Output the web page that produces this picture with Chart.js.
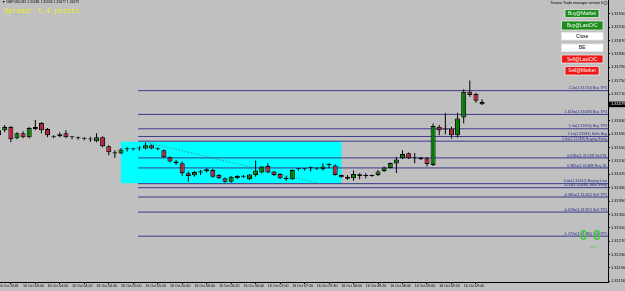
<!DOCTYPE html>
<html>
<head>
<meta charset="utf-8">
<script src="https://cdn.jsdelivr.net/npm/chart.js@4.4.0/dist/chart.umd.min.js"></script>
<style>
  html, body { margin: 0; padding: 0; background: #c0c0c0; overflow: hidden; }
  #wrap { width: 625px; height: 291px; overflow: hidden; }
</style>
</head>
<body>
<div id="wrap"><canvas id="chart" width="650" height="291"></canvas></div>
<script>
// GBPUSD M5, 16 Oct 03:20 .. 09:55 (one candle per 5 min)
const symbol = 'GBPUSD,M5'
const spreadPoints = 1.4

const opens = [1.31587, 1.31602, 1.31611, 1.31578, 1.31593, 1.31581, 1.31605, 1.31623, 1.31605, 1.31584,
  1.31584, 1.31593, 1.31581, 1.31578, 1.31576, 1.31574, 1.31569, 1.31581, 1.31554, 1.31536,
  1.31532, 1.31545, 1.31545, 1.31547, 1.31547, 1.31557, 1.31548, 1.31542, 1.31521, 1.31508,
  1.31503, 1.31473, 1.31467, 1.31475, 1.31479, 1.31483, 1.31468, 1.31458, 1.31448, 1.31465,
  1.31463, 1.31455, 1.31468, 1.31475, 1.31495, 1.31478, 1.31471, 1.31460, 1.31455, 1.31485,
  1.31485, 1.31488, 1.31487, 1.31485, 1.31498, 1.31496, 1.31468, 1.31463, 1.31458, 1.31470,
  1.31465, 1.31465, 1.31468, 1.31480, 1.31489, 1.31502, 1.31518, 1.31533, 1.31518, 1.31515,
  1.31518, 1.31498, 1.31612, 1.31604, 1.31607, 1.31587, 1.31640, 1.31717, 1.31710, 1.31686]
const highs = [1.31608, 1.31617, 1.31614, 1.31596, 1.31599, 1.31611, 1.31632, 1.31626, 1.31608, 1.31587,
  1.31596, 1.31602, 1.31584, 1.31583, 1.31581, 1.31582, 1.31593, 1.31584, 1.31557, 1.31542,
  1.31548, 1.31551, 1.31548, 1.31554, 1.31566, 1.31559, 1.31550, 1.31544, 1.31523, 1.31513,
  1.31508, 1.31478, 1.31480, 1.31483, 1.31488, 1.31486, 1.31471, 1.31460, 1.31465, 1.31468,
  1.31468, 1.31471, 1.31511, 1.31495, 1.31503, 1.31480, 1.31473, 1.31465, 1.31484, 1.31487,
  1.31487, 1.31493, 1.31489, 1.31503, 1.31503, 1.31499, 1.31469, 1.31468, 1.31481, 1.31473,
  1.31473, 1.31469, 1.31483, 1.31493, 1.31505, 1.31522, 1.31542, 1.31535, 1.31534, 1.31522,
  1.31522, 1.31622, 1.31617, 1.31653, 1.31612, 1.31654, 1.31724, 1.31750, 1.31714, 1.31694]
const lows = [1.31584, 1.31596, 1.31566, 1.31575, 1.31578, 1.31578, 1.31602, 1.31593, 1.31581, 1.31578,
  1.31581, 1.31578, 1.31575, 1.31573, 1.31572, 1.31567, 1.31566, 1.31551, 1.31527, 1.31519,
  1.31531, 1.31538, 1.31541, 1.31540, 1.31544, 1.31545, 1.31542, 1.31519, 1.31505, 1.31498,
  1.31465, 1.31448, 1.31463, 1.31468, 1.31475, 1.31460, 1.31456, 1.31445, 1.31445, 1.31456,
  1.31459, 1.31453, 1.31463, 1.31472, 1.31473, 1.31465, 1.31456, 1.31451, 1.31453, 1.31481,
  1.31481, 1.31478, 1.31483, 1.31481, 1.31488, 1.31466, 1.31460, 1.31453, 1.31451, 1.31455,
  1.31458, 1.31463, 1.31465, 1.31477, 1.31487, 1.31474, 1.31516, 1.31516, 1.31503, 1.31513,
  1.31493, 1.31495, 1.31587, 1.31590, 1.31577, 1.31580, 1.31622, 1.31702, 1.31684, 1.31677]
const closes = [1.31602, 1.31611, 1.31575, 1.31593, 1.31581, 1.31608, 1.31611, 1.31602, 1.31587, 1.31581,
  1.31590, 1.31581, 1.31581, 1.31578, 1.31576, 1.31574, 1.31581, 1.31554, 1.31536, 1.31532,
  1.31544, 1.31545, 1.31545, 1.31547, 1.31557, 1.31547, 1.31545, 1.31521, 1.31508, 1.31503,
  1.31473, 1.31465, 1.31477, 1.31479, 1.31485, 1.31463, 1.31458, 1.31448, 1.31463, 1.31458,
  1.31463, 1.31469, 1.31481, 1.31493, 1.31475, 1.31468, 1.31458, 1.31455, 1.31483, 1.31485,
  1.31485, 1.31488, 1.31487, 1.31493, 1.31498, 1.31468, 1.31461, 1.31457, 1.31471, 1.31465,
  1.31465, 1.31468, 1.31478, 1.31490, 1.31504, 1.31514, 1.31531, 1.31518, 1.31518, 1.31520,
  1.31501, 1.31614, 1.31602, 1.31604, 1.31587, 1.31637, 1.31717, 1.31707, 1.31690, 1.31679]

// time axis: a label every 4th candle
const xLabels = ['16 Oct 2018', '16 Oct 03:40', '16 Oct 04:00', '16 Oct 04:20', '16 Oct 04:40',
  '16 Oct 05:00', '16 Oct 05:20', '16 Oct 05:40', '16 Oct 06:00', '16 Oct 06:20', '16 Oct 06:40',
  '16 Oct 07:00', '16 Oct 07:20', '16 Oct 07:40', '16 Oct 08:00', '16 Oct 08:20', '16 Oct 08:40',
  '16 Oct 09:00', '16 Oct 09:20', '16 Oct 09:40']
const xTickIdx = xLabels.map((l, i) => i * 4)

const yTicks = [1.31950, 1.31910, 1.31870, 1.31830, 1.31790, 1.31750, 1.31710, 1.31630, 1.31590, 1.31550,
  1.31510, 1.31470, 1.31430, 1.31390, 1.31350, 1.31310, 1.31270, 1.31230, 1.31190, 1.31150]

// fibo levels of the trade manager
const fibLevels = ['2.2', '1.618', '1.3', '1.1', '1.0', '0.618', '0.382', '0.0', '-0.1', '-0.382', '-0.618', '-1.272']
const fibPrices = [1.31720, 1.31649, 1.31606, 1.31583, 1.31569, 1.31519, 1.31489, 1.31442, 1.31430, 1.31402, 1.31357, 1.31285]
const fibTags = ['Buy TP5', 'Buy TP4', 'Buy TP3', 'Sells Buy', 'Buying Entry', 'Sell SL', 'Buy SL', 'Buying Line', 'Sells Entry', 'Sell TP1', 'Sell TP3', 'Sell TP5']
const fibStart = 22.8

// cyan box and the two dotted trendlines
const boxX = [19.95, 56.06]
const boxY = [1.31567, 1.31443]
const trend1 = [[24.74, 1.31563], [52.8, 1.31441]]
const trend2 = [[72.1, 1.31597], [75.1, 1.31642]]

const buttons = [
  ['Buy@Market', 565, 9.5, 599, 17.5, '#1c8c1c', '#ffffff'],
  ['Buy@LastO/C', 561.5, 21, 603, 30, '#1c8c1c', '#ffffff'],
  ['Close', 561.5, 32.5, 603, 40, '#ffffff', '#000000'],
  ['BE', 561.5, 44, 603, 51.5, '#ffffff', '#000000'],
  ['Sell@LastO/C', 561.5, 55, 603, 63, '#f01414', '#ffffff'],
  ['Sell@Market', 565, 66.5, 599, 75, '#f01414', '#ffffff']
]

const xMin = 0.229
const xMax = 99.58
const yMin = 1.31148
const yMax = 1.31991
const font = '"Liberation Sans", Arial, sans-serif'

const bull = '#008000'
const bear = '#c0203a'
const bodyColors = opens.map((o, i) => closes[i] > o ? bull : (closes[i] < o ? bear : '#000000'))

const datasets = [{
  type: 'line',
  data: [{x: boxX[0], y: boxY[0]}, {x: boxX[1], y: boxY[0]}],
  borderWidth: 0,
  pointRadius: 0,
  backgroundColor: '#00ffff',
  fill: {value: boxY[1]},
  order: 10
}]
fibPrices.forEach((p) => {
  datasets.push({
    type: 'line',
    data: [{x: fibStart, y: p}, {x: xMax, y: p}],
    borderColor: '#3b3b8c',
    borderWidth: 1,
    pointRadius: 0,
    fill: false,
    order: 6
  })
})
;[trend1, trend2].forEach((t, k) => {
  datasets.push({
    type: 'line',
    data: t.map(p => ({x: p[0], y: p[1]})),
    borderColor: k === 0 ? '#5a6a6a' : '#8a8a8a',
    borderWidth: 1,
    borderDash: [1, 2],
    pointRadius: 0,
    fill: false,
    order: 5
  })
})
datasets.push({
  type: 'bar',
  data: lows.map((l, i) => ({x: i, y: [l, highs[i]]})),
  backgroundColor: '#000000',
  barThickness: 1,
  grouped: false,
  inflateAmount: 0,
  order: 2
})
datasets.push({
  type: 'bar',
  data: opens.map((o, i) => ({x: i, y: [o, closes[i]]})),
  backgroundColor: bodyColors,
  borderColor: '#000000',
  borderWidth: 1,
  borderSkipped: false,
  barThickness: 5,
  minBarLength: 1,
  grouped: false,
  inflateAmount: 0,
  order: 1
})

const decor = {
  id: 'decor',
  afterDatasetsDraw (chart) {
    const ctx = chart.ctx
    const y = chart.scales.y
    const area = chart.chartArea
    ctx.save()
    ctx.font = '3.7px ' + font
    ctx.fillStyle = '#2a2a8a'
    ctx.textAlign = 'right'
    ctx.textBaseline = 'bottom'
    fibPrices.forEach((p, i) => {
      ctx.fillText(fibLevels[i] + '=(' + p.toFixed(5) + ') ' + fibTags[i], area.right - 1, y.getPixelForValue(p) - 0.5)
    })
    ctx.restore()
  },
  afterDraw (chart) {
    const ctx = chart.ctx
    const y = chart.scales.y
    const area = chart.chartArea
    const last = closes.length - 1
    ctx.save()
    // header line
    ctx.fillStyle = '#000'
    ctx.font = '3.4px ' + font
    ctx.textBaseline = 'middle'
    ctx.fillText('\u25BC ' + symbol + ' ' + opens[last].toFixed(5) + ' ' + highs[last].toFixed(5) + ' ' +
      lows[last].toFixed(5) + ' ' + closes[last].toFixed(5), 2, 2.5)
    ctx.fillStyle = '#f0f020'
    ctx.font = '7px "Liberation Mono", "DejaVu Sans Mono", monospace'
    ctx.fillText('Spread: ' + spreadPoints + ' points', 4, 11.5)

    // trade manager panel
    ctx.fillStyle = '#000'
    ctx.font = '3.6px ' + font
    ctx.textAlign = 'right'
    ctx.fillText('Trisano Trade manager version 6', 603, 3)
    ctx.strokeStyle = '#333'
    ctx.lineWidth = 0.6
    ctx.beginPath()
    ctx.arc(605.5, 3, 1.6, 0, Math.PI * 2)
    ctx.stroke()
    ctx.textAlign = 'center'
    ctx.font = '4.8px ' + font
    buttons.forEach((b) => {
      ctx.fillStyle = b[5]
      ctx.fillRect(b[1], b[2], b[3] - b[1], b[4] - b[2])
      ctx.strokeStyle = '#e8e8e8'
      ctx.lineWidth = 0.8
      ctx.strokeRect(b[1], b[2], b[3] - b[1], b[4] - b[2])
      ctx.fillStyle = b[6]
      ctx.fillText(b[0], (b[1] + b[3]) / 2, (b[2] + b[4]) / 2 + 0.3)
    })

    // profit marks
    ctx.strokeStyle = '#3ccc3c'
    ctx.lineWidth = 1.6
    ;[583.5, 597].forEach((cx) => {
      ctx.beginPath()
      ctx.ellipse(cx, 235, 2.6, 4.2, 0, 0, Math.PI * 2)
      ctx.stroke()
    })
    ctx.fillStyle = '#50c850'
    ctx.font = '4px ' + font
    ctx.fillText('+0.7', 593, 246.5)

    // current price on the axis
    const py = y.getPixelForValue(closes[last])
    ctx.fillStyle = '#000'
    ctx.fillRect(area.right + 1, py - 2.8, 40, 5.6)
    ctx.fillStyle = '#fff'
    ctx.textAlign = 'left'
    ctx.font = '4px ' + font
    ctx.fillText(closes[last].toFixed(5), area.right + 3, py)
    ctx.restore()
  }
}

new Chart('chart', {
  type: 'bar',
  data: {datasets: datasets},
  plugins: [decor],
  options: {
    responsive: false,
    animation: false,
    layout: {padding: 0},
    plugins: {legend: {display: false}, tooltip: {enabled: false}},
    scales: {
      x: {
        type: 'linear',
        min: xMin,
        max: xMax,
        offset: false,
        grid: {drawOnChartArea: false, tickLength: 2, tickColor: '#000'},
        border: {color: '#000', width: 1},
        ticks: {
          autoSkip: false,
          maxRotation: 0,
          align: 'start',
          padding: 0,
          color: '#000',
          font: {size: 3.6, family: font},
          callback: (v, i) => xLabels[i]
        },
        afterBuildTicks: (s) => { s.ticks = xTickIdx.map(v => ({value: v})) },
        afterFit: (s) => { s.height = 9; s.paddingLeft = 0; s.paddingRight = 0 }
      },
      y: {
        position: 'right',
        min: yMin,
        max: yMax,
        grid: {drawOnChartArea: false, tickLength: 2, tickColor: '#000'},
        border: {color: '#000', width: 1},
        ticks: {
          padding: 1,
          color: '#000',
          font: {size: 4, family: font},
          callback: v => v.toFixed(5)
        },
        afterBuildTicks: (s) => { s.ticks = yTicks.map(v => ({value: v})) },
        afterFit: (s) => { s.width = 42; s.paddingTop = 0; s.paddingBottom = 0 }
      }
    }
  }
})
</script>
</body>
</html>
